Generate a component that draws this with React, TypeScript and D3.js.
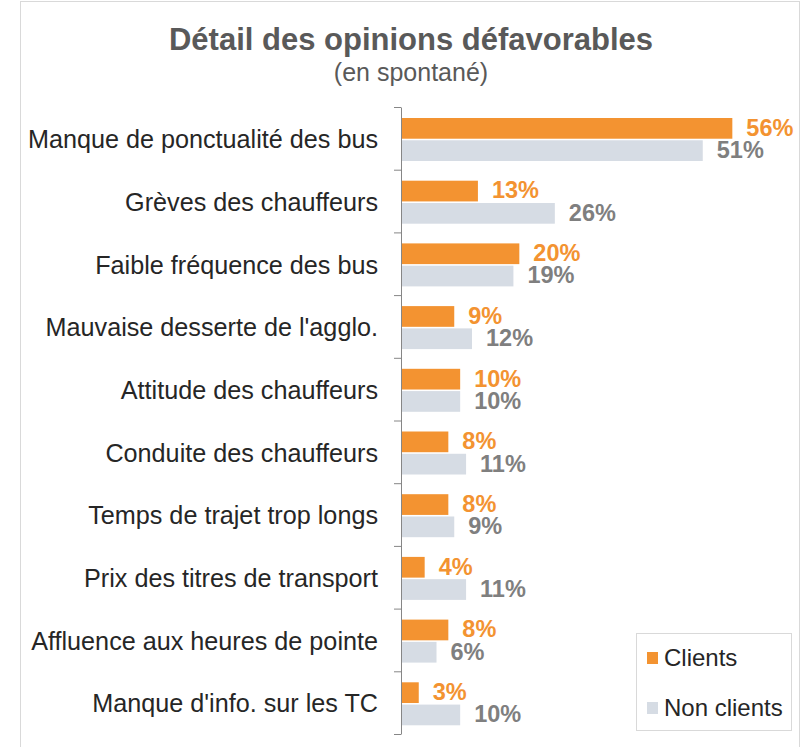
import React, { useEffect, useRef } from 'react'
import * as d3 from 'd3'

const WIDTH = 804
const HEIGHT = 747
const AXIS_X = 401
const PLOT_TOP = 107
const PLOT_BOTTOM = 734
const FONT = 'Arial, "Liberation Sans", sans-serif'

const ORANGE = '#f39331'
const LIGHT = '#d6dce4'

const categories = [
  'Manque de ponctualité des bus',
  'Grèves des chauffeurs',
  'Faible fréquence des bus',
  "Mauvaise desserte de l'agglo.",
  'Attitude des chauffeurs',
  'Conduite des chauffeurs',
  'Temps de trajet trop longs',
  'Prix des titres de transport',
  'Affluence aux heures de pointe',
  "Manque d'info. sur les TC",
]
const clients = [56, 13, 20, 9, 10, 8, 8, 4, 8, 3]
const nonClients = [51, 26, 19, 12, 10, 11, 9, 11, 6, 10]
const seriesNames = ['Clients', 'Non clients']

export default function App() {
  const ref = useRef<SVGSVGElement>(null)

  useEffect(() => {
    const svg = d3.select(ref.current)
    svg.selectAll('*').remove()

    const x = d3.scaleLinear().domain([0, 60]).range([AXIS_X, AXIS_X + 355])
    const y = d3.scaleBand().domain(categories).range([PLOT_TOP, PLOT_BOTTOM])
    const sub = d3.scaleBand().domain(seriesNames).range([11, 54]).paddingInner(0.07)
    const colour = d3.scaleOrdinal<string>().domain(seriesNames).range([ORANGE, LIGHT])
    const labelColour = d3.scaleOrdinal<string>().domain(seriesNames).range([ORANGE, '#7f7f7f'])

    // outer frame
    svg.append('rect')
      .attr('x', 20.5).attr('y', 1.5)
      .attr('width', 779).attr('height', 800)
      .attr('fill', 'none').attr('stroke', '#d9d9d9')

    svg.append('text')
      .attr('x', 411).attr('y', 50)
      .attr('text-anchor', 'middle')
      .attr('font-family', FONT).attr('font-size', 31).attr('font-weight', 'bold')
      .attr('fill', '#595959')
      .text('Détail des opinions défavorables')

    svg.append('text')
      .attr('x', 411).attr('y', 81)
      .attr('text-anchor', 'middle')
      .attr('font-family', FONT).attr('font-size', 25)
      .attr('fill', '#595959')
      .text('(en spontané)')

    const data = categories.map((c, i) => ({ cat: c, values: [clients[i], nonClients[i]] }))

    const groups = svg.selectAll('g.cat')
      .data(data)
      .join('g')
        .attr('class', 'cat')
        .attr('transform', d => `translate(0, ${y(d.cat)})`)

    groups.selectAll('rect')
      .data(d => d.values.map((v, j) => ({ name: seriesNames[j], v })))
      .join('rect')
        .attr('x', x(0))
        .attr('y', d => sub(d.name)!)
        .attr('width', d => x(d.v) - x(0))
        .attr('height', sub.bandwidth())
        .attr('fill', d => colour(d.name))

    groups.selectAll('text.value')
      .data(d => d.values.map((v, j) => ({ name: seriesNames[j], v })))
      .join('text')
        .attr('class', 'value')
        .attr('x', d => x(d.v) + 14)
        .attr('y', d => sub(d.name)! + sub.bandwidth() - 3)
        .attr('font-family', FONT).attr('font-size', 23.5).attr('font-weight', 'bold')
        .attr('fill', d => labelColour(d.name))
        .text(d => `${d.v}%`)

    groups.append('text')
      .attr('x', 378)
      .attr('y', y.bandwidth() / 2 + 1)
      .attr('dy', '0.35em')
      .attr('text-anchor', 'end')
      .attr('font-family', FONT).attr('font-size', 25.2)
      .attr('fill', '#262626')
      .text(d => d.cat)

    // axis with ticks between categories
    const edges = d3.scaleLinear().domain([0, categories.length]).range([PLOT_TOP, PLOT_BOTTOM])
    const axis = svg.append('g')
      .attr('transform', `translate(${AXIS_X}, 0)`)
      .call(d3.axisLeft(edges).tickValues(d3.range(0, categories.length + 1)).tickSize(7).tickSizeOuter(0).tickFormat(() => ''))
    axis.selectAll('path, line').attr('stroke', '#868686')

    // legend
    const legend = svg.append('g').attr('transform', 'translate(636, 633)')
    legend.append('rect')
      .attr('x', 0.5).attr('y', 0.5).attr('width', 155).attr('height', 97)
      .attr('fill', '#fff').attr('stroke', '#d9d9d9')
    const item = legend.selectAll('g.item')
      .data(seriesNames)
      .join('g')
        .attr('class', 'item')
        .attr('transform', (_, i) => `translate(11, ${19 + i * 50})`)
    item.append('rect')
      .attr('width', 11).attr('height', 12)
      .attr('fill', d => colour(d))
    item.append('text')
      .attr('x', 17).attr('y', 14)
      .attr('font-family', FONT).attr('font-size', 24)
      .attr('fill', '#262626')
      .text(d => d)
  }, [])

  return (
    <svg
      ref={ref}
      width={WIDTH}
      height={HEIGHT}
      style={{ position: 'absolute', left: 0, top: 0, background: '#fff' }}
    />
  )
}
